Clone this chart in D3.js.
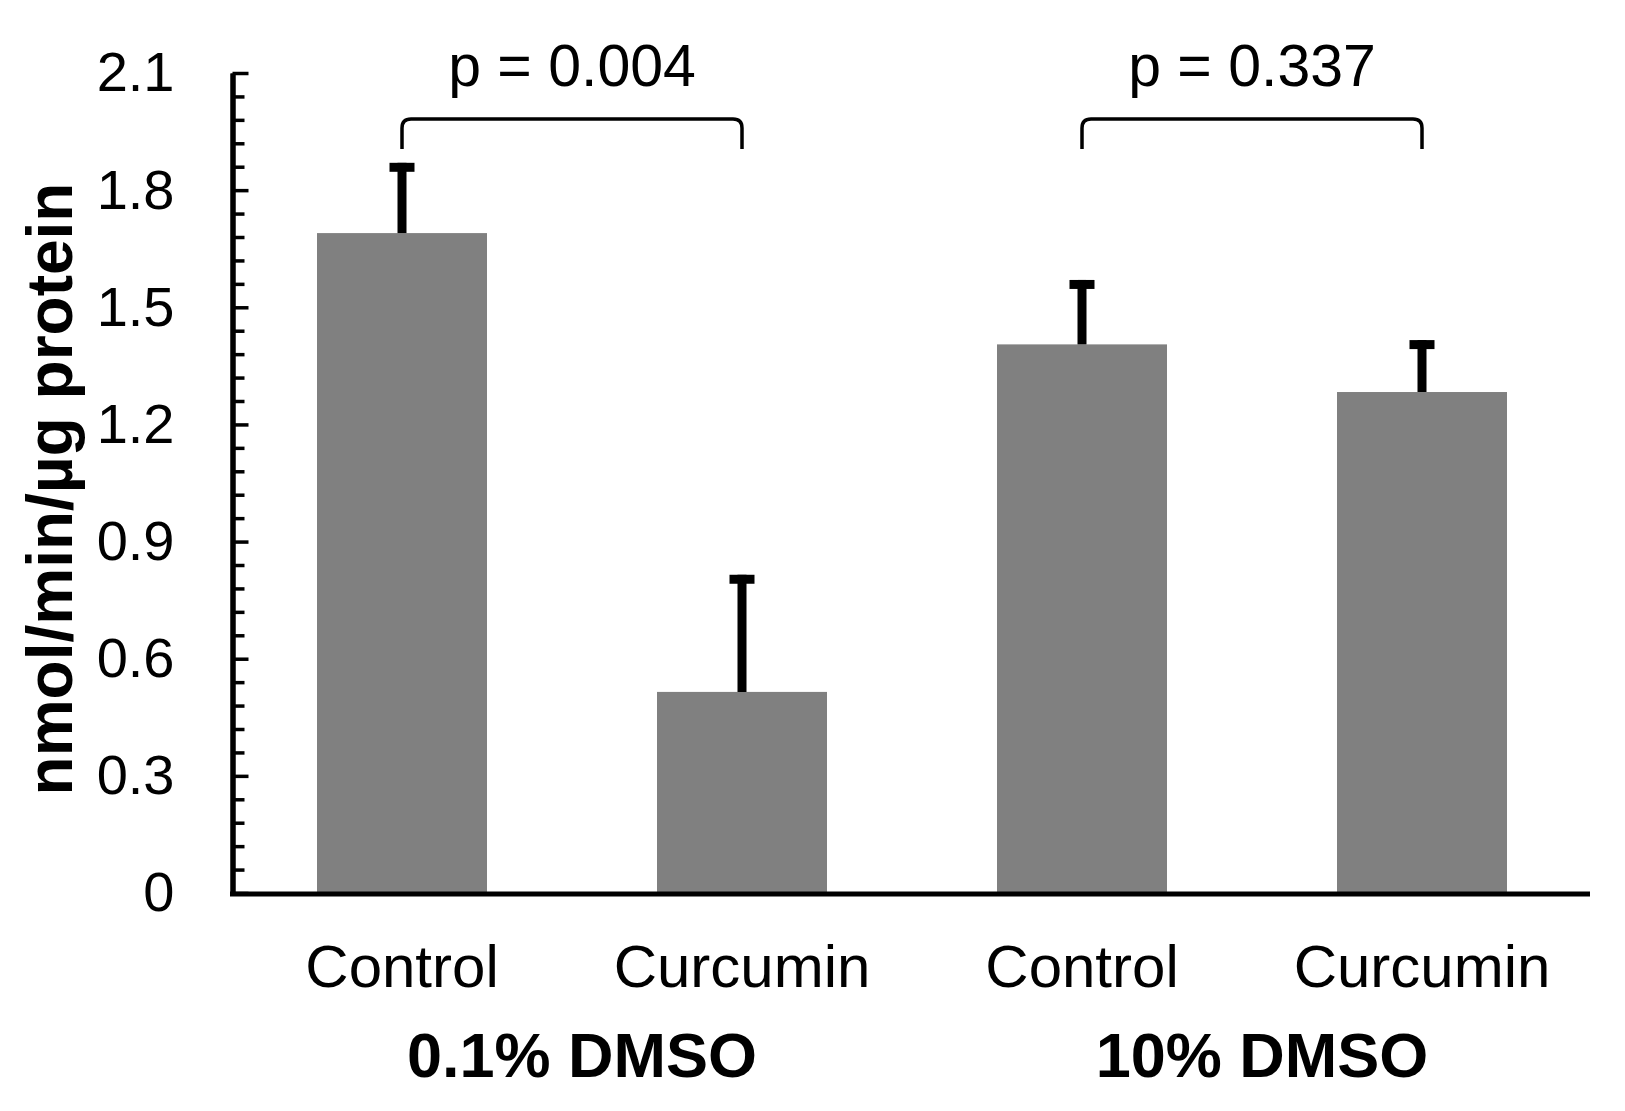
<!DOCTYPE html>
<html>
<head>
<meta charset="utf-8">
<script src="https://cdn.jsdelivr.net/npm/d3@7"></script>
<style>
  body { margin: 0; background: #fff; }
  text { font-family: "Liberation Sans", Arial, sans-serif; fill: #000; }
</style>
</head>
<body>
<div id="chart"></div>
<script>
// chart values
var groups = ["0.1% DMSO", "10% DMSO"];
var treatments = ["Control", "Curcumin"];
var means = [1.69, 0.515, 1.405, 1.283];
var errors = [0.18, 0.30, 0.165, 0.133];
var yTickValues = [0, 0.3, 0.6, 0.9, 1.2, 1.5, 1.8, 2.1];
var yTickLabels = ["0", "0.3", "0.6", "0.9", "1.2", "1.5", "1.8", "2.1"];
var pLabels = ["p = 0.004", "p = 0.337"];
var yTitle = "nmol/min/\u00b5g protein";

var svgWidth = 1625, svgHeight = 1111;
var svg = d3.select("#chart").append("svg").attr("width", svgWidth).attr("height", svgHeight);
svg.append("rect").attr("width", svgWidth).attr("height", svgHeight).attr("fill", "#fff");

// one row per bar
var rows = [];
groups.forEach(function(g, gi) {
  treatments.forEach(function(t, ti) {
    var i = gi * treatments.length + ti;
    rows.push({ id: i, group: g, treatment: t, mean: means[i], err: errors[i] });
  });
});

var x = d3.scaleBand().domain(rows.map(d => d.id)).range([232, 1592]).paddingInner(0.5).paddingOuter(0.25);
var y = d3.scaleLinear().domain([0, 2.1]).range([893, 73]);

// bars
svg.selectAll(".bar").data(rows).enter().append("rect").attr("class", "bar")
  .attr("x", d => x(d.id)).attr("width", x.bandwidth())
  .attr("y", d => y(d.mean)).attr("height", d => y(0) - y(d.mean))
  .attr("fill", "#808080");

// error bars (upper only)
var eb = svg.selectAll(".err").data(rows).enter().append("g").attr("class", "err");
eb.append("line")
  .attr("x1", d => x(d.id) + x.bandwidth() / 2).attr("x2", d => x(d.id) + x.bandwidth() / 2)
  .attr("y1", d => y(d.mean)).attr("y2", d => y(d.mean + d.err))
  .attr("stroke", "#000").attr("stroke-width", 9);
eb.append("line")
  .attr("x1", d => x(d.id) + x.bandwidth() / 2 - 12.5).attr("x2", d => x(d.id) + x.bandwidth() / 2 + 12.5)
  .attr("y1", d => y(d.mean + d.err) + 4.5).attr("y2", d => y(d.mean + d.err) + 4.5)
  .attr("stroke", "#000").attr("stroke-width", 9);

// y axis: minor then major ticks, pointing inward
var minorTicks = d3.range(0, 36).map(i => +(i * 0.06).toFixed(2)).filter(v => yTickValues.indexOf(v) < 0);
var yMinor = svg.append("g").attr("transform", "translate(232.5,0)")
  .call(d3.axisLeft(y).tickValues(minorTicks).tickSizeInner(-12).tickSizeOuter(0).tickFormat(""));
var yMajor = svg.append("g").attr("transform", "translate(232.5,0)")
  .call(d3.axisLeft(y).tickValues(yTickValues).tickSizeInner(-16).tickSizeOuter(0).tickPadding(58)
    .tickFormat((d, i) => yTickLabels[i]));
[yMinor, yMajor].forEach(function(g) {
  g.selectAll(".tick line").attr("stroke", "#000").attr("stroke-width", 3.5);
  g.select(".domain").attr("stroke", "#000").attr("stroke-width", 5);
});
yMajor.selectAll(".tick text").attr("font-size", 56).attr("font-family", "Liberation Sans, Arial, sans-serif").attr("fill", "#000");

// x axis with treatment labels
var xAxis = svg.append("g").attr("transform", "translate(0,894)")
  .call(d3.axisBottom(x).tickSize(0).tickPadding(50).tickFormat(i => rows[i].treatment));
xAxis.select(".domain").attr("d", "M230,0H1590").attr("stroke", "#000").attr("stroke-width", 5);
xAxis.selectAll(".tick text").attr("font-size", 60).attr("font-family", "Liberation Sans, Arial, sans-serif").attr("fill", "#000");

// group labels
svg.selectAll(".grp").data(groups).enter().append("text").attr("class", "grp")
  .attr("x", (g, gi) => (x(gi * 2) + x(gi * 2 + 1) + x.bandwidth()) / 2 + 10)
  .attr("y", 1077).attr("text-anchor", "middle")
  .attr("font-size", 63).attr("font-weight", "bold").text(g => g);

// significance brackets
var rad = 9, brTop = 119, brBottom = 149;
groups.forEach(function(g, gi) {
  var x1 = x(gi * 2) + x.bandwidth() / 2, x2 = x(gi * 2 + 1) + x.bandwidth() / 2;
  var p = d3.path();
  p.moveTo(x1, brBottom); p.lineTo(x1, brTop + rad);
  p.quadraticCurveTo(x1, brTop, x1 + rad, brTop);
  p.lineTo(x2 - rad, brTop);
  p.quadraticCurveTo(x2, brTop, x2, brTop + rad);
  p.lineTo(x2, brBottom);
  svg.append("path").attr("d", p.toString()).attr("fill", "none").attr("stroke", "#000").attr("stroke-width", 3.5);
  svg.append("text").attr("x", (x1 + x2) / 2).attr("y", 86).attr("text-anchor", "middle")
    .attr("font-size", 59).text(pLabels[gi]);
});

// y axis title
svg.append("text").attr("transform", "translate(72,489) rotate(-90)")
  .attr("text-anchor", "middle").attr("font-size", 64).attr("font-weight", "bold").text(yTitle);
</script>
</body>
</html>
